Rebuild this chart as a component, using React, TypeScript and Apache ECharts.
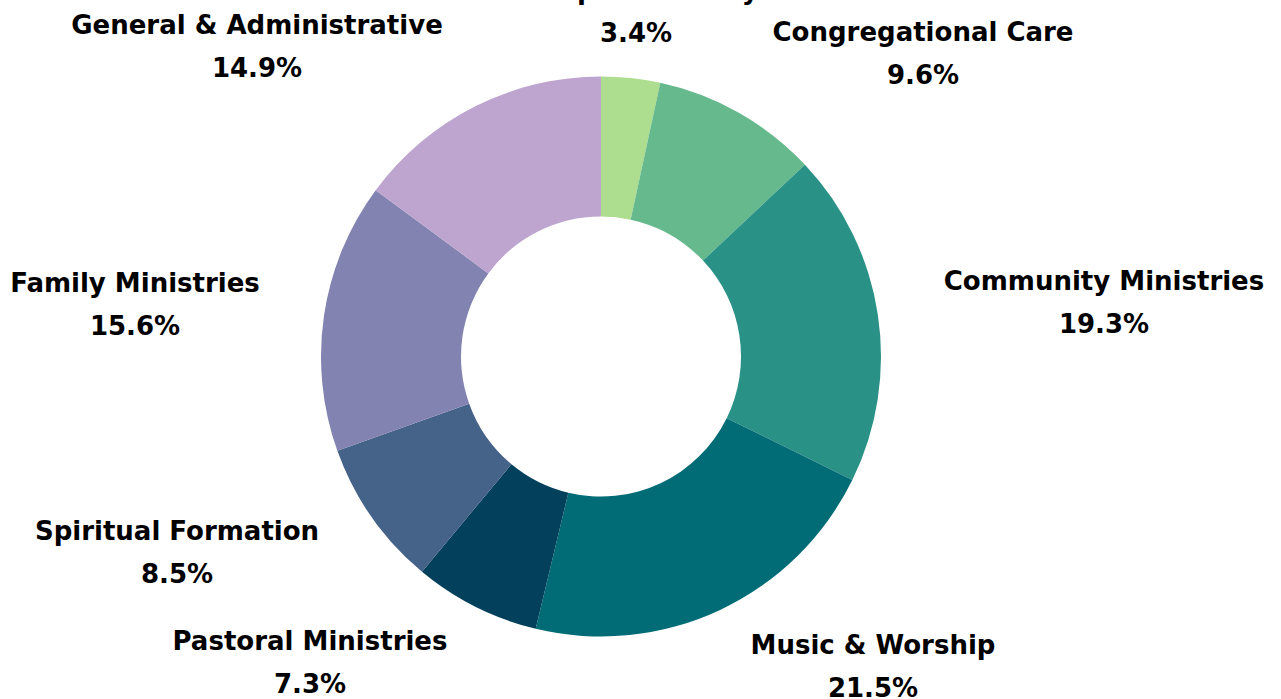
import React, { useEffect, useRef } from "react";
import * as echarts from "echarts";

const categories = [
  "Campus Ministry",
  "Congregational Care",
  "Community Ministries",
  "Music & Worship",
  "Pastoral Ministries",
  "Spiritual Formation",
  "Family Ministries",
  "General & Administrative",
];
const shares = [3.4, 9.6, 19.3, 21.5, 7.3, 8.5, 15.6, 14.9];
const sliceColors = [
  "#addd8e",
  "#66b98d",
  "#2a9186",
  "#026c76",
  "#03405b",
  "#456288",
  "#8283b0",
  "#bda5cf",
];
// label block centres (px) as placed in the reference
const labelAnchors: [number, number][] = [
  [636, 11],
  [923, 53],
  [1104, 302],
  [873, 666],
  [310, 662],
  [177, 552],
  [135, 304],
  [257, 46],
];

export default function App() {
  const ref = useRef<HTMLDivElement>(null);
  useEffect(() => {
    if (!ref.current) return;
    const chart = echarts.init(ref.current, undefined, { renderer: "svg" });
    chart.setOption({
      animation: false,
      backgroundColor: "#ffffff",
      series: [
        {
          type: "pie",
          center: [601, 356.5],
          radius: [140, 280],
          startAngle: 90,
          clockwise: true,
          avoidLabelOverlap: false,
          itemStyle: { borderWidth: 0 },
          label: {
            show: true,
            position: "outside",
            color: "#000000",
            fontFamily: "'DejaVu Sans'",
            fontWeight: "bold",
            fontSize: 26,
            lineHeight: 43,
            align: "center",
            formatter: (p: any) => `${p.name}\n${Number(p.value).toFixed(1)}%`,
          },
          labelLine: { show: false },
          labelLayout: (p: any) => ({
            x: labelAnchors[p.dataIndex][0],
            y: labelAnchors[p.dataIndex][1],
            align: "center",
            verticalAlign: "middle",
          }),
          data: categories.map((name, i) => ({
            name,
            value: shares[i],
            itemStyle: { color: sliceColors[i] },
          })),
        },
      ],
    });
    return () => chart.dispose();
  }, []);
  return (
    <div
      ref={ref}
      style={{ position: "absolute", left: 0, top: 0, width: 1281, height: 699 }}
    />
  );
}
